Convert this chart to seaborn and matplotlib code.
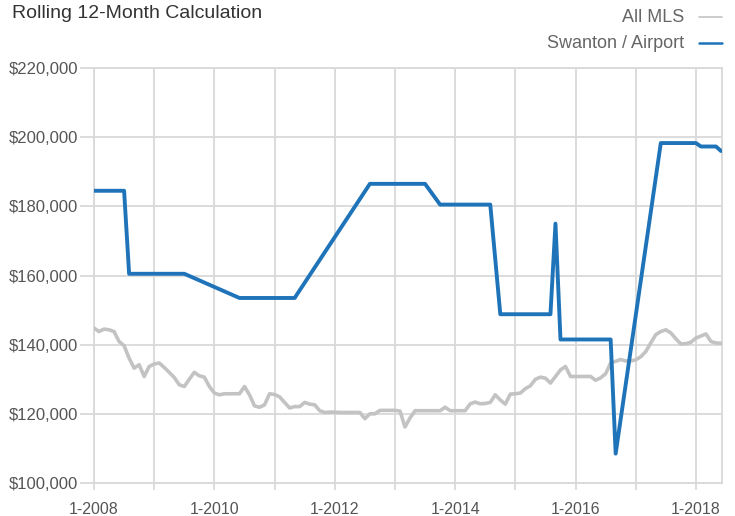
import numpy as np
import pandas as pd
import matplotlib
matplotlib.use("Agg")
import matplotlib.pyplot as plt
from matplotlib.lines import Line2D
import seaborn as sns

# Monthly rolling 12-month median price, Jan 2008 .. Jun 2018
start_month = "2008-01"
n_months = 126

all_mls = [
    144800, 143800, 144500, 144300, 143800, 140900, 139700, 136100, 133200, 134200,
    130800, 133700, 134400, 134700, 133400, 132000, 130500, 128400, 127900, 130000,
    132000, 131000, 130600, 127900, 126000, 125500, 125800, 125800, 125800, 125800,
    127900, 125500, 122300, 121900, 122600, 125800, 125600, 124900, 123300, 121700,
    122100, 122100, 123300, 122800, 122600, 120900, 120400, 120500, 120500, 120400,
    120400, 120400, 120400, 120400, 118600, 120000, 120000, 121000, 121000, 121000,
    121000, 120800, 116200, 118800, 120900, 120900, 120900, 120900, 120900, 120900,
    121900, 120900, 120900, 120900, 120900, 122900, 123400, 122900, 123000, 123300,
    125500, 124000, 122800, 125700, 125800, 126000, 127300, 128100, 130000, 130600,
    130300, 128900, 130800, 132700, 133700, 130800, 130800, 130800, 130800, 130800,
    129700, 130400, 131600, 134700, 135200, 135700, 135300, 135300, 135600, 136500,
    138000, 140500, 142900, 143800, 144300, 143400, 141700, 140200, 140300, 140700,
    141900, 142500, 143100, 140900, 140500, 140400,
]

# Swanton / Airport: months without a reported value are left empty (NaN)
nan = np.nan
swanton = (
    [184500] * 7 +            # Jan-Jul 2008
    [160500] * 12 +           # Aug 2008 - Jul 2009
    [nan] * 10 +
    [153500] * 12 +           # Jun 2010 - May 2011
    [nan] * 14 +
    [186500] * 12 +           # Aug 2012 - Jul 2013
    [nan] * 2 +
    [180500] * 11 +           # Oct 2013 - Aug 2014
    [nan] * 1 +
    [148800] * 11 +           # Oct 2014 - Aug 2015
    [175000] +                # Sep 2015
    [141500] * 11 +           # Oct 2015 - Aug 2016
    [108500] +                # Sep 2016
    [nan] * 8 +
    [198300] * 8 +            # Jun 2017 - Jan 2018
    [197300] * 4 +            # Feb - May 2018
    [196000]                  # Jun 2018
)

y_ticks = [100000, 120000, 140000, 160000, 180000, 200000, 220000]
x_tick_labels = ["1-2008", "", "1-2010", "", "1-2012", "", "1-2014", "",
                 "1-2016", "", "1-2018"]

GRID = "#d9d9d9"
BLUE = "#1f74b9"
GRAY = "#c3c3c3"
TEXT = "#555555"

sns.set_theme(style="white")
plt.rcParams["font.family"] = ["Liberation Sans Narrow", "Liberation Sans",
                               "DejaVu Sans"]

months = np.arange(n_months)
df = pd.DataFrame({"month": months, "All MLS": all_mls, "Swanton / Airport": swanton})

fig = plt.figure(figsize=(7.35, 5.16), dpi=100)
ax = fig.add_axes([94 / 735, 1 - 483 / 516, (722 - 94) / 735, (483 - 68) / 516])

sns.lineplot(data=df, x="month", y="All MLS", ax=ax, color=GRAY,
             linewidth=2.6, zorder=3)
blue = df[["month", "Swanton / Airport"]].dropna()
sns.lineplot(data=blue, x="month", y="Swanton / Airport", ax=ax, color=BLUE,
             linewidth=2.8, zorder=4)

ax.set_xlim(0, 125.2)
ax.set_ylim(100000, 220000)
ax.set_xticks(np.arange(0, 121, 12))
ax.set_xticklabels(x_tick_labels)
ax.set_yticks(y_ticks)
ax.set_yticklabels([f"${v:,.0f}" for v in y_ticks])
ax.set_xlabel("")
ax.set_ylabel("")

ax.grid(True, color=GRID, linewidth=1.3)
ax.set_axisbelow(True)
for s in ax.spines.values():
    s.set_color(GRID)
    s.set_linewidth(1.3)
ax.tick_params(axis="both", colors=GRID, width=1.3, labelcolor=TEXT)
ax.tick_params(axis="x", length=5, pad=9, bottom=True, labelsize=11.5)
ax.tick_params(axis="y", length=10, pad=1.5, left=True, labelsize=12)

fig.text(12 / 735, 1 - 13 / 516, "Rolling 12-Month Calculation", ha="left",
         va="center", fontsize=14, color="#333333")

# legend, text right-aligned with short line keys
for label, color, yp in [("All MLS", GRAY, 17), ("Swanton / Airport", BLUE, 43)]:
    fig.text(684 / 735, 1 - yp / 516, label, ha="right", va="center",
             fontsize=13, color="#666666")
    lw = 1.2 if color == GRAY else 1.8
    fig.add_artist(Line2D([699 / 735, 722 / 735], [1 - yp / 516, 1 - yp / 516],
                          color=color, linewidth=lw, transform=fig.transFigure))

fig.savefig("out.png", dpi=100)
